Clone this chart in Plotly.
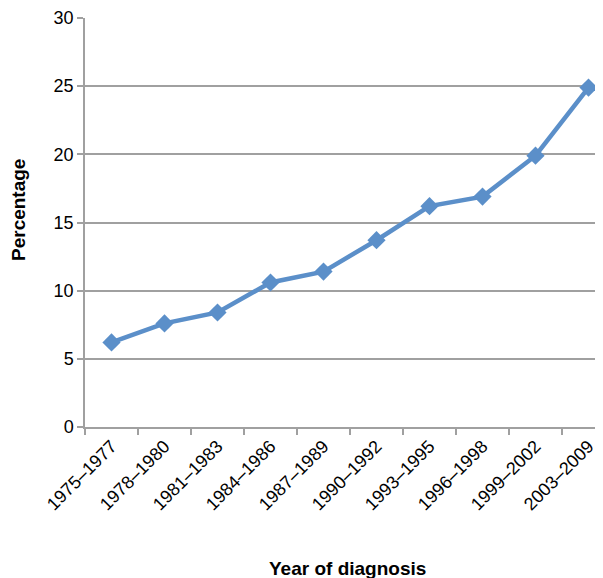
import plotly.graph_objects as go

periods = ["1975–1977", "1978–1980", "1981–1983", "1984–1986", "1987–1989",
           "1990–1992", "1993–1995", "1996–1998", "1999–2002", "2003–2009"]
percentage = [6.2, 7.6, 8.4, 10.6, 11.4, 13.7, 16.2, 16.9, 19.9, 24.9]

fig = go.Figure(go.Scatter(
    x=periods, y=percentage, mode="lines+markers",
    line=dict(color="#5b8fc9", width=4.5),
    marker=dict(symbol="diamond", size=14, color="#5b8fc9"),
    cliponaxis=False,
))

W, H = 595, 570
L, T, B = 77, 10, 151
pw, ph = W - L, H - T - B

fig.update_layout(
    width=W, height=H,
    margin=dict(l=L, r=0, t=T, b=B),
    paper_bgcolor="white", plot_bgcolor="white",
    font=dict(family="Liberation Sans, Arial, sans-serif", size=18, color="#000"),
    showlegend=False,
    xaxis=dict(
        type="category", range=[-0.5, -0.5 + pw / 53.0],
        showgrid=False, showline=True, linecolor="#a0a0a0", linewidth=1.5,
        ticks="outside", tickson="boundaries", ticklen=6, tickcolor="#a0a0a0", tickwidth=1.5,
        tickangle=-45, tickfont=dict(size=18),
        automargin=False,
    ),
    yaxis=dict(
        range=[0, 30], dtick=5,
        showgrid=True, gridcolor="#a0a0a0", gridwidth=1.5,
        showline=True, linecolor="#a0a0a0", linewidth=1.5,
        ticks="outside", ticklen=6, tickcolor="#a0a0a0", tickwidth=1.5,
        tickfont=dict(size=18), zeroline=False,
        automargin=False,
    ),
    annotations=[
        dict(text="<b>Year of diagnosis</b>", xref="paper", yref="paper",
             x=(339.5 - L) / pw, y=(ph + T - 560) / ph, xanchor="center", yanchor="middle",
             showarrow=False, font=dict(size=19)),
        dict(text="<b>Percentage</b>", xref="paper", yref="paper",
             x=(10 - L) / pw, y=(ph + T - 202) / ph, xanchor="center", yanchor="middle",
             textangle=-90, showarrow=False, font=dict(size=19)),
    ],
)

fig.write_html("out.html")
